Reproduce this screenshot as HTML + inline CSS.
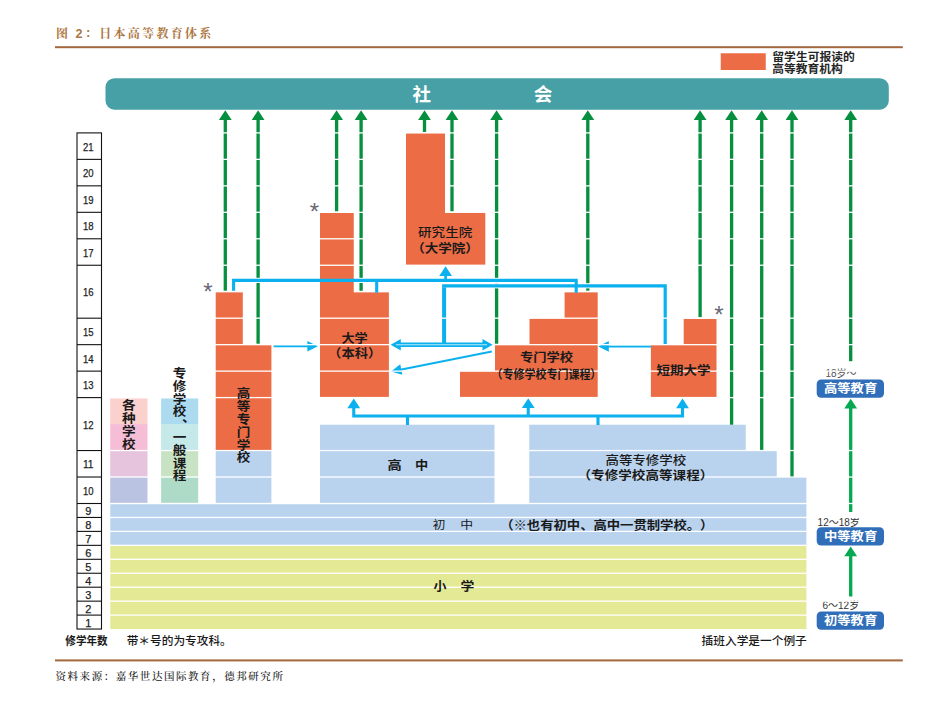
<!DOCTYPE html>
<html lang="zh-CN"><head><meta charset="utf-8"><title>图 2：日本高等教育体系</title>
<style>html,body{margin:0;padding:0;background:#fff}body{width:929px;height:707px;overflow:hidden}svg{display:block}text{white-space:pre;text-spacing-trim:space-all}</style>
</head><body>
<svg width="929" height="707" viewBox="0 0 929 707">
<rect width="929" height="707" fill="#fff"/>
<text x="56" y="37.6" font-size="12" font-weight="700" fill="#ad7642" letter-spacing="2.3" font-family='"Liberation Serif","Noto Serif CJK SC",serif'>图 <tspan font-family='"Liberation Sans","Noto Sans CJK SC",sans-serif' font-size="12.6">2</tspan>：日本高等教育体系</text>
<rect x="55.00" y="46.20" width="847.80" height="2.00" fill="#a4683e" />
<rect x="55.00" y="659.40" width="847.80" height="2.00" fill="#a4683e" />
<text x="55.50" y="680.00" font-size="10.5" font-weight="500" fill="#151515" letter-spacing="1.55" text-anchor="start" font-family='"Liberation Serif","Noto Serif CJK SC",serif' >资料来源：嘉华世达国际教育，德邦研究所</text>
<rect x="720.75" y="53.25" width="45.00" height="16.75" fill="#ec6d45" />
<text x="0.00" y="0.00" font-size="11.1" font-weight="700" fill="#262626" letter-spacing="0" text-anchor="start" font-family='"Liberation Sans","Noto Sans CJK SC",sans-serif' transform="translate(772.34,60.77) scale(1.0628,1)" >留学生可报读的</text>
<text x="0.00" y="0.00" font-size="11.1" font-weight="700" fill="#262626" letter-spacing="0" text-anchor="start" font-family='"Liberation Sans","Noto Sans CJK SC",sans-serif' transform="translate(772.34,73.37) scale(1.0597,1)" >高等教育机构</text>
<rect x="105.50" y="78.20" width="783.30" height="31.50" fill="#46a0a6" rx="9" ry="9"/>
<text x="412.40" y="101.00" font-size="18.5" font-weight="700" fill="#fff" letter-spacing="0" text-anchor="start" font-family='"Liberation Sans","Noto Sans CJK SC",sans-serif' >社</text>
<text x="533.65" y="101.00" font-size="18.5" font-weight="700" fill="#fff" letter-spacing="0" text-anchor="start" font-family='"Liberation Sans","Noto Sans CJK SC",sans-serif' >会</text>
<rect x="110.30" y="504.13" width="696.10" height="41.22" fill="#b9d3ef" />
<rect x="110.30" y="545.35" width="696.10" height="83.70" fill="#e4e996" />
<rect x="110.20" y="398.25" width="37.30" height="26.12" fill="#fad1cd" />
<rect x="110.20" y="424.07" width="37.30" height="26.77" fill="#f5bed6" />
<rect x="110.20" y="450.54" width="37.30" height="26.77" fill="#e6c4dd" />
<rect x="110.20" y="477.01" width="37.30" height="26.47" fill="#bac4e2" />
<rect x="161.10" y="398.25" width="37.10" height="26.12" fill="#acdbf0" />
<rect x="161.10" y="424.07" width="37.10" height="26.77" fill="#c5e8e8" />
<rect x="161.10" y="450.54" width="37.10" height="26.77" fill="#c8e2c4" />
<rect x="161.10" y="477.01" width="37.10" height="26.47" fill="#aedbc8" />
<rect x="215.70" y="292.37" width="27.10" height="52.59" fill="#ec6d45" />
<rect x="215.70" y="344.66" width="55.70" height="105.88" fill="#ec6d45" />
<rect x="215.70" y="450.54" width="55.70" height="52.94" fill="#b9d3ef" />
<rect x="320.00" y="424.72" width="174.50" height="78.76" fill="#b9d3ef" />
<rect x="529.25" y="424.72" width="216.50" height="26.12" fill="#b9d3ef" />
<rect x="529.25" y="450.54" width="247.50" height="26.77" fill="#b9d3ef" />
<rect x="529.25" y="477.01" width="277.15" height="27.42" fill="#b9d3ef" />
<rect x="320.00" y="212.96" width="33.75" height="82.76" fill="#ec6d45" />
<rect x="320.00" y="292.37" width="68.90" height="104.58" fill="#ec6d45" />
<rect x="564.60" y="292.37" width="33.10" height="26.12" fill="#ec6d45" />
<rect x="529.50" y="318.19" width="68.20" height="26.77" fill="#ec6d45" />
<rect x="495.00" y="344.66" width="102.70" height="26.77" fill="#ec6d45" />
<rect x="460.00" y="371.13" width="137.70" height="25.82" fill="#ec6d45" />
<rect x="683.70" y="318.84" width="32.80" height="26.12" fill="#ec6d45" />
<rect x="650.90" y="344.66" width="65.60" height="52.29" fill="#ec6d45" />
<rect x="223.65" y="119.50" width="3.30" height="171.17" fill="#068f3e" />
<polygon points="225.30,110.20 231.70,120.00 218.90,120.00" fill="#068f3e"/>
<rect x="256.45" y="119.50" width="3.30" height="224.21" fill="#068f3e" />
<polygon points="258.10,110.20 264.50,120.00 251.70,120.00" fill="#068f3e"/>
<rect x="334.95" y="119.50" width="3.30" height="91.86" fill="#068f3e" />
<polygon points="336.60,110.20 343.00,120.00 330.20,120.00" fill="#068f3e"/>
<rect x="359.45" y="119.50" width="3.30" height="171.27" fill="#068f3e" />
<polygon points="361.10,110.20 367.50,120.00 354.70,120.00" fill="#068f3e"/>
<rect x="422.85" y="119.50" width="3.30" height="12.45" fill="#068f3e" />
<polygon points="424.50,110.20 430.90,120.00 418.10,120.00" fill="#068f3e"/>
<rect x="450.35" y="119.50" width="3.30" height="91.86" fill="#068f3e" />
<polygon points="452.00,110.20 458.40,120.00 445.60,120.00" fill="#068f3e"/>
<rect x="494.95" y="119.50" width="3.30" height="224.21" fill="#068f3e" />
<polygon points="496.60,110.20 503.00,120.00 490.20,120.00" fill="#068f3e"/>
<rect x="586.15" y="119.50" width="3.30" height="171.17" fill="#068f3e" />
<polygon points="587.80,110.20 594.20,120.00 581.40,120.00" fill="#068f3e"/>
<rect x="698.45" y="119.50" width="3.30" height="197.74" fill="#068f3e" />
<polygon points="700.10,110.20 706.50,120.00 693.70,120.00" fill="#068f3e"/>
<rect x="729.95" y="119.50" width="3.30" height="305.22" fill="#068f3e" />
<polygon points="731.60,110.20 738.00,120.00 725.20,120.00" fill="#068f3e"/>
<rect x="760.05" y="119.50" width="3.30" height="331.39" fill="#068f3e" />
<polygon points="761.70,110.20 768.10,120.00 755.30,120.00" fill="#068f3e"/>
<rect x="790.35" y="119.50" width="3.30" height="357.86" fill="#068f3e" />
<polygon points="792.00,110.20 798.40,120.00 785.60,120.00" fill="#068f3e"/>
<rect x="849.05" y="119.50" width="3.30" height="241.70" fill="#068f3e" />
<polygon points="850.70,110.20 857.10,120.00 844.30,120.00" fill="#068f3e"/>
<rect x="849.05" y="408.00" width="3.30" height="104.00" fill="#05a94f" />
<polygon points="850.70,398.70 857.10,408.50 844.30,408.50" fill="#05a94f"/>
<rect x="246.00" y="277.80" width="70.00" height="5.20" fill="#fff" />
<rect x="357.00" y="277.80" width="15.00" height="5.20" fill="#fff" />
<rect x="392.00" y="277.80" width="48.00" height="5.20" fill="#fff" />
<rect x="450.00" y="277.80" width="122.00" height="5.20" fill="#fff" />
<rect x="450.00" y="283.20" width="211.00" height="5.20" fill="#fff" />
<path d="M233.6 290.87 V280.4 H576.2 V292.67" fill="none" stroke="#0bb1ee" stroke-width="3.1" stroke-linejoin="miter"/>
<path d="M376.7 280.4 V292.67" fill="none" stroke="#0bb1ee" stroke-width="3.1" stroke-linejoin="miter"/>
<path d="M445.6 280.4 V274" fill="none" stroke="#0bb1ee" stroke-width="2.7" stroke-linejoin="miter"/>
<polygon points="445.60,266.20 452.00,275.90 439.20,275.90" fill="#0bb1ee"/>
<path d="M444.1 344.6 V287.3" fill="none" stroke="#0bb1ee" stroke-width="4.0" stroke-linejoin="miter"/>
<path d="M442.1 285.8 H665.2 V345.2" fill="none" stroke="#0bb1ee" stroke-width="3.2" stroke-linejoin="miter"/>
<line x1="491.80" y1="351.60" x2="400.32" y2="369.75" stroke="#0bb1ee" stroke-width="2.0" />
<polygon points="391.00,371.60 400.27,364.36 402.33,374.76" fill="#0bb1ee"/>
<line x1="273.60" y1="346.20" x2="308.40" y2="346.20" stroke="#0bb1ee" stroke-width="2.0" />
<polygon points="317.90,346.20 307.40,351.50 307.40,340.90" fill="#0bb1ee"/>
<line x1="651.20" y1="346.40" x2="607.80" y2="346.40" stroke="#0bb1ee" stroke-width="2.0" />
<polygon points="598.30,346.40 608.80,341.10 608.80,351.70" fill="#0bb1ee"/>
<path d="M353.75 408 V416 H682.5 V408" fill="none" stroke="#0bb1ee" stroke-width="3.1" stroke-linejoin="miter"/>
<path d="M528.25 408 V416" fill="none" stroke="#0bb1ee" stroke-width="3.1" stroke-linejoin="miter"/>
<path d="M407.5 416 V425.02" fill="none" stroke="#0bb1ee" stroke-width="3.1" stroke-linejoin="miter"/>
<path d="M598 416 V425.02" fill="none" stroke="#0bb1ee" stroke-width="3.1" stroke-linejoin="miter"/>
<polygon points="353.75,398.60 360.15,408.30 347.35,408.30" fill="#0bb1ee"/>
<polygon points="528.25,398.30 534.65,408.00 521.85,408.00" fill="#0bb1ee"/>
<polygon points="682.50,398.60 688.90,408.30 676.10,408.30" fill="#0bb1ee"/>
<text x="825.40" y="377.00" font-size="10" font-weight="400" fill="#555" letter-spacing="0" text-anchor="start" font-family='"Liberation Sans","Noto Sans CJK SC",sans-serif' >18岁～</text>
<text x="817.60" y="525.60" font-size="10" font-weight="400" fill="#333" letter-spacing="0" text-anchor="start" font-family='"Liberation Sans","Noto Sans CJK SC",sans-serif' >12～18岁</text>
<text x="822.50" y="608.70" font-size="10" font-weight="400" fill="#333" letter-spacing="0" text-anchor="start" font-family='"Liberation Sans","Noto Sans CJK SC",sans-serif' >6～12岁</text>
<text x="208.00" y="300.00" font-size="24" font-weight="400" fill="#686876" letter-spacing="0" text-anchor="middle" font-family='"Liberation Sans","Noto Sans CJK SC",sans-serif' >*</text>
<text x="314.40" y="219.60" font-size="24" font-weight="400" fill="#686876" letter-spacing="0" text-anchor="middle" font-family='"Liberation Sans","Noto Sans CJK SC",sans-serif' >*</text>
<text x="718.80" y="322.60" font-size="24" font-weight="400" fill="#686876" letter-spacing="0" text-anchor="middle" font-family='"Liberation Sans","Noto Sans CJK SC",sans-serif' >*</text>
<rect x="104" y="132.25" width="790" height="1.3" fill="#fff"/>
<rect x="104" y="158.72" width="790" height="1.3" fill="#fff"/>
<rect x="104" y="185.19" width="790" height="1.3" fill="#fff"/>
<rect x="104" y="211.66" width="790" height="1.3" fill="#fff"/>
<rect x="104" y="238.13" width="790" height="1.3" fill="#fff"/>
<rect x="104" y="264.60" width="790" height="1.3" fill="#fff"/>
<rect x="104" y="317.54" width="790" height="1.3" fill="#fff"/>
<rect x="104" y="344.01" width="790" height="1.3" fill="#fff"/>
<rect x="104" y="370.48" width="790" height="1.3" fill="#fff"/>
<rect x="104" y="396.95" width="790" height="1.3" fill="#fff"/>
<rect x="104" y="449.89" width="790" height="1.3" fill="#fff"/>
<rect x="104" y="476.36" width="790" height="1.3" fill="#fff"/>
<rect x="104" y="502.83" width="790" height="1.3" fill="#fff"/>
<rect x="104" y="516.80" width="790" height="1.3" fill="#fff"/>
<rect x="104" y="530.75" width="790" height="1.3" fill="#fff"/>
<rect x="104" y="544.70" width="790" height="1.3" fill="#fff"/>
<rect x="104" y="558.65" width="790" height="1.3" fill="#fff"/>
<rect x="104" y="572.60" width="790" height="1.3" fill="#fff"/>
<rect x="104" y="586.55" width="790" height="1.3" fill="#fff"/>
<rect x="104" y="600.50" width="790" height="1.3" fill="#fff"/>
<rect x="104" y="614.45" width="790" height="1.3" fill="#fff"/>
<line x1="398.00" y1="344.70" x2="485.00" y2="344.70" stroke="#0bb1ee" stroke-width="4.5" />
<polygon points="390.70,344.70 400.80,338.90 400.80,350.50" fill="#0bb1ee"/>
<polygon points="492.60,344.70 482.50,338.90 482.50,350.50" fill="#0bb1ee"/>
<rect x="396" y="344.1" width="91" height="1.2" fill="#fff" fill-opacity="0.6"/>
<rect x="849.05" y="555.80" width="3.30" height="40.70" fill="#05a94f" />
<polygon points="850.70,546.50 857.10,556.30 844.30,556.30" fill="#05a94f"/>
<rect x="406.00" y="133.55" width="39.00" height="83.41" fill="#ec6d45" />
<rect x="406.00" y="212.96" width="79.30" height="51.64" fill="#ec6d45" />
<rect x="816.70" y="379.50" width="67.30" height="18.30" fill="#316eb9" rx="4.5" ry="4.5"/>
<text x="0.00" y="0.00" font-size="12.1" font-weight="700" fill="#fff" letter-spacing="0" text-anchor="start" font-family='"Liberation Sans","Noto Sans CJK SC",sans-serif' transform="translate(823.93,392.99) scale(1.1019,1)" >高等教育</text>
<rect x="816.70" y="527.30" width="67.30" height="18.30" fill="#316eb9" rx="4.5" ry="4.5"/>
<text x="0.00" y="0.00" font-size="12.1" font-weight="700" fill="#fff" letter-spacing="0" text-anchor="start" font-family='"Liberation Sans","Noto Sans CJK SC",sans-serif' transform="translate(823.93,540.79) scale(1.1019,1)" >中等教育</text>
<rect x="816.70" y="611.40" width="67.30" height="18.30" fill="#316eb9" rx="4.5" ry="4.5"/>
<text x="0.00" y="0.00" font-size="12.1" font-weight="700" fill="#fff" letter-spacing="0" text-anchor="start" font-family='"Liberation Sans","Noto Sans CJK SC",sans-serif' transform="translate(823.93,624.89) scale(1.1019,1)" >初等教育</text>
<text transform="scale(1,0.92)" x="122.10 122.10 122.10 122.10" y="445.87 459.88 473.88 487.89" font-size="13.6" font-weight="700" fill="#1a1a1a" font-family='"Liberation Sans","Noto Sans CJK SC",sans-serif'>各种学校</text>
<text transform="scale(1,0.92)" x="172.70 172.70 172.70 172.70 181.95 172.70 172.70 172.70 172.70" y="410.98 424.87 438.76 452.66 459.07 480.45 494.34 508.24 522.13" font-size="13.6" font-weight="700" fill="#1a1a1a" font-family='"Liberation Sans","Noto Sans CJK SC",sans-serif'>专修学校、一般课程</text>
<text transform="scale(1,0.92)" x="236.80 236.80 236.80 236.80 236.80 236.80" y="432.93 446.86 460.79 474.71 488.64 502.57" font-size="13.6" font-weight="700" fill="#1a1a1a" font-family='"Liberation Sans","Noto Sans CJK SC",sans-serif'>高等专门学校</text>
<text x="0.00" y="0.00" font-size="12.1" font-weight="700" fill="#1a1a1a" letter-spacing="0" text-anchor="start" font-family='"Liberation Sans","Noto Sans CJK SC",sans-serif' transform="translate(341.44,342.99) scale(1.0877,1)" >大学</text>
<text x="0.00" y="0.00" font-size="12.1" font-weight="700" fill="#1a1a1a" letter-spacing="0" text-anchor="start" font-family='"Liberation Sans","Noto Sans CJK SC",sans-serif' transform="translate(328.12,358.29) scale(1.1005,1)" >（本科）</text>
<text x="0.00" y="0.00" font-size="12.1" font-weight="700" fill="#1a1a1a" letter-spacing="0" text-anchor="start" font-family='"Liberation Sans","Noto Sans CJK SC",sans-serif' transform="translate(519.93,362.29) scale(1.0998,1)" >专门学校</text>
<text x="0.00" y="0.00" font-size="12.1" font-weight="700" fill="#1a1a1a" letter-spacing="0" text-anchor="start" font-family='"Liberation Sans","Noto Sans CJK SC",sans-serif' transform="translate(491.52,378.69) scale(0.9088,1)" >（专修学校专门课程）</text>
<text x="0.00" y="0.00" font-size="12.1" font-weight="700" fill="#1a1a1a" letter-spacing="0" text-anchor="start" font-family='"Liberation Sans","Noto Sans CJK SC",sans-serif' transform="translate(656.53,375.19) scale(1.1145,1)" >短期大学</text>
<text x="0.00" y="0.00" font-size="12.1" font-weight="700" fill="#1a1a1a" letter-spacing="0" text-anchor="start" font-family='"Liberation Sans","Noto Sans CJK SC",sans-serif' transform="translate(387.50,469.69) scale(1.1775,1)" >高</text>
<text x="0.00" y="0.00" font-size="12.1" font-weight="700" fill="#1a1a1a" letter-spacing="0" text-anchor="start" font-family='"Liberation Sans","Noto Sans CJK SC",sans-serif' transform="translate(415.04,469.69) scale(1.093,1)" >中</text>
<text x="0.00" y="0.00" font-size="12.1" font-weight="500" fill="#1a1a1a" letter-spacing="0" text-anchor="start" font-family='"Liberation Sans","Noto Sans CJK SC",sans-serif' transform="translate(605.43,464.59) scale(1.1135,1)" >高等专修学校</text>
<text x="0.00" y="0.00" font-size="12.1" font-weight="700" fill="#1a1a1a" letter-spacing="0" text-anchor="start" font-family='"Liberation Sans","Noto Sans CJK SC",sans-serif' transform="translate(577.54,480.29) scale(1.1224,1)" >（专修学校高等课程）</text>
<text x="0.00" y="0.00" font-size="11.6" font-weight="400" fill="#1a1a1a" letter-spacing="0" text-anchor="start" font-family='"Liberation Sans","Noto Sans CJK SC",sans-serif' transform="translate(432.81,529.33) scale(1.0892,1)" >初</text>
<text x="0.00" y="0.00" font-size="11.6" font-weight="400" fill="#1a1a1a" letter-spacing="0" text-anchor="start" font-family='"Liberation Sans","Noto Sans CJK SC",sans-serif' transform="translate(460.15,529.33) scale(1.1123,1)" >中</text>
<text x="0.00" y="0.00" font-size="12.1" font-weight="700" fill="#1a1a1a" letter-spacing="0" text-anchor="start" font-family='"Liberation Sans","Noto Sans CJK SC",sans-serif' transform="translate(500.18,530.29) scale(1.1032,1)" >（※也有初中、高中一贯制学校。）</text>
<text x="0.00" y="0.00" font-size="12.1" font-weight="700" fill="#1a1a1a" letter-spacing="0" text-anchor="start" font-family='"Liberation Sans","Noto Sans CJK SC",sans-serif' transform="translate(433.44,591.29) scale(1.0753,1)" >小</text>
<text x="0.00" y="0.00" font-size="12.1" font-weight="700" fill="#1a1a1a" letter-spacing="0" text-anchor="start" font-family='"Liberation Sans","Noto Sans CJK SC",sans-serif' transform="translate(460.51,591.29) scale(1.1464,1)" >学</text>
<text x="0.00" y="0.00" font-size="12.1" font-weight="500" fill="#1a1a1a" letter-spacing="0" text-anchor="start" font-family='"Liberation Sans","Noto Sans CJK SC",sans-serif' transform="translate(418.03,236.69) scale(1.1209,1)" >研究生院</text>
<text x="0.00" y="0.00" font-size="12.1" font-weight="700" fill="#1a1a1a" letter-spacing="0" text-anchor="start" font-family='"Liberation Sans","Noto Sans CJK SC",sans-serif' transform="translate(411.31,252.59) scale(1.117,1)" >（大学院）</text>
<text x="0.00" y="0.00" font-size="11.2" font-weight="700" fill="#1a1a1a" letter-spacing="0" text-anchor="start" font-family='"Liberation Sans","Noto Sans CJK SC",sans-serif' transform="translate(65.33,644.56) scale(0.9451,1)" >修学年数</text>
<text x="0.00" y="0.00" font-size="11.2" font-weight="500" fill="#1a1a1a" letter-spacing="0" text-anchor="start" font-family='"Liberation Sans","Noto Sans CJK SC",sans-serif' transform="translate(126.69,644.56) scale(1.0426,1)" >带＊号的为专攻科。</text>
<text x="0.00" y="0.00" font-size="11.2" font-weight="500" fill="#1a1a1a" letter-spacing="0" text-anchor="start" font-family='"Liberation Sans","Noto Sans CJK SC",sans-serif' transform="translate(701.59,644.66) scale(1.0448,1)" >插班入学是一个例子</text>
<rect x="77" y="132.90" width="24.5" height="496.15" fill="#fff" stroke="#111" stroke-width="1.1"/>
<text x="88.2" y="150.73" font-size="11" fill="#222" stroke="#222" stroke-width="0.25" text-anchor="middle" textLength="10.6" lengthAdjust="spacingAndGlyphs" font-family='"Liberation Sans","Noto Sans CJK SC",sans-serif'>21</text>
<line x1="77.00" y1="159.37" x2="101.50" y2="159.37" stroke="#111" stroke-width="1.1" />
<text x="88.2" y="177.21" font-size="11" fill="#222" stroke="#222" stroke-width="0.25" text-anchor="middle" textLength="10.6" lengthAdjust="spacingAndGlyphs" font-family='"Liberation Sans","Noto Sans CJK SC",sans-serif'>20</text>
<line x1="77.00" y1="185.84" x2="101.50" y2="185.84" stroke="#111" stroke-width="1.1" />
<text x="88.2" y="203.67" font-size="11" fill="#222" stroke="#222" stroke-width="0.25" text-anchor="middle" textLength="10.6" lengthAdjust="spacingAndGlyphs" font-family='"Liberation Sans","Noto Sans CJK SC",sans-serif'>19</text>
<line x1="77.00" y1="212.31" x2="101.50" y2="212.31" stroke="#111" stroke-width="1.1" />
<text x="88.2" y="230.15" font-size="11" fill="#222" stroke="#222" stroke-width="0.25" text-anchor="middle" textLength="10.6" lengthAdjust="spacingAndGlyphs" font-family='"Liberation Sans","Noto Sans CJK SC",sans-serif'>18</text>
<line x1="77.00" y1="238.78" x2="101.50" y2="238.78" stroke="#111" stroke-width="1.1" />
<text x="88.2" y="256.62" font-size="11" fill="#222" stroke="#222" stroke-width="0.25" text-anchor="middle" textLength="10.6" lengthAdjust="spacingAndGlyphs" font-family='"Liberation Sans","Noto Sans CJK SC",sans-serif'>17</text>
<line x1="77.00" y1="265.25" x2="101.50" y2="265.25" stroke="#111" stroke-width="1.1" />
<text x="88.2" y="296.32" font-size="11" fill="#222" stroke="#222" stroke-width="0.25" text-anchor="middle" textLength="10.6" lengthAdjust="spacingAndGlyphs" font-family='"Liberation Sans","Noto Sans CJK SC",sans-serif'>16</text>
<line x1="77.00" y1="318.19" x2="101.50" y2="318.19" stroke="#111" stroke-width="1.1" />
<text x="88.2" y="336.02" font-size="11" fill="#222" stroke="#222" stroke-width="0.25" text-anchor="middle" textLength="10.6" lengthAdjust="spacingAndGlyphs" font-family='"Liberation Sans","Noto Sans CJK SC",sans-serif'>15</text>
<line x1="77.00" y1="344.66" x2="101.50" y2="344.66" stroke="#111" stroke-width="1.1" />
<text x="88.2" y="362.50" font-size="11" fill="#222" stroke="#222" stroke-width="0.25" text-anchor="middle" textLength="10.6" lengthAdjust="spacingAndGlyphs" font-family='"Liberation Sans","Noto Sans CJK SC",sans-serif'>14</text>
<line x1="77.00" y1="371.13" x2="101.50" y2="371.13" stroke="#111" stroke-width="1.1" />
<text x="88.2" y="388.97" font-size="11" fill="#222" stroke="#222" stroke-width="0.25" text-anchor="middle" textLength="10.6" lengthAdjust="spacingAndGlyphs" font-family='"Liberation Sans","Noto Sans CJK SC",sans-serif'>13</text>
<line x1="77.00" y1="397.60" x2="101.50" y2="397.60" stroke="#111" stroke-width="1.1" />
<text x="88.2" y="428.67" font-size="11" fill="#222" stroke="#222" stroke-width="0.25" text-anchor="middle" textLength="10.6" lengthAdjust="spacingAndGlyphs" font-family='"Liberation Sans","Noto Sans CJK SC",sans-serif'>12</text>
<line x1="77.00" y1="450.54" x2="101.50" y2="450.54" stroke="#111" stroke-width="1.1" />
<text x="88.2" y="468.38" font-size="11" fill="#222" stroke="#222" stroke-width="0.25" text-anchor="middle" textLength="10.6" lengthAdjust="spacingAndGlyphs" font-family='"Liberation Sans","Noto Sans CJK SC",sans-serif'>11</text>
<line x1="77.00" y1="477.01" x2="101.50" y2="477.01" stroke="#111" stroke-width="1.1" />
<text x="88.2" y="494.85" font-size="11" fill="#222" stroke="#222" stroke-width="0.25" text-anchor="middle" textLength="10.6" lengthAdjust="spacingAndGlyphs" font-family='"Liberation Sans","Noto Sans CJK SC",sans-serif'>10</text>
<line x1="77.00" y1="503.50" x2="101.50" y2="503.50" stroke="#111" stroke-width="1.1" />
<text x="88.4" y="515.08" font-size="11" fill="#222" stroke="#222" stroke-width="0.25" text-anchor="middle"  font-family='"Liberation Sans","Noto Sans CJK SC",sans-serif'>9</text>
<line x1="77.00" y1="517.45" x2="101.50" y2="517.45" stroke="#111" stroke-width="1.1" />
<text x="88.4" y="529.02" font-size="11" fill="#222" stroke="#222" stroke-width="0.25" text-anchor="middle"  font-family='"Liberation Sans","Noto Sans CJK SC",sans-serif'>8</text>
<line x1="77.00" y1="531.40" x2="101.50" y2="531.40" stroke="#111" stroke-width="1.1" />
<text x="88.4" y="542.98" font-size="11" fill="#222" stroke="#222" stroke-width="0.25" text-anchor="middle"  font-family='"Liberation Sans","Noto Sans CJK SC",sans-serif'>7</text>
<line x1="77.00" y1="545.35" x2="101.50" y2="545.35" stroke="#111" stroke-width="1.1" />
<text x="88.4" y="556.93" font-size="11" fill="#222" stroke="#222" stroke-width="0.25" text-anchor="middle"  font-family='"Liberation Sans","Noto Sans CJK SC",sans-serif'>6</text>
<line x1="77.00" y1="559.30" x2="101.50" y2="559.30" stroke="#111" stroke-width="1.1" />
<text x="88.4" y="570.88" font-size="11" fill="#222" stroke="#222" stroke-width="0.25" text-anchor="middle"  font-family='"Liberation Sans","Noto Sans CJK SC",sans-serif'>5</text>
<line x1="77.00" y1="573.25" x2="101.50" y2="573.25" stroke="#111" stroke-width="1.1" />
<text x="88.4" y="584.83" font-size="11" fill="#222" stroke="#222" stroke-width="0.25" text-anchor="middle"  font-family='"Liberation Sans","Noto Sans CJK SC",sans-serif'>4</text>
<line x1="77.00" y1="587.20" x2="101.50" y2="587.20" stroke="#111" stroke-width="1.1" />
<text x="88.4" y="598.77" font-size="11" fill="#222" stroke="#222" stroke-width="0.25" text-anchor="middle"  font-family='"Liberation Sans","Noto Sans CJK SC",sans-serif'>3</text>
<line x1="77.00" y1="601.15" x2="101.50" y2="601.15" stroke="#111" stroke-width="1.1" />
<text x="88.4" y="612.73" font-size="11" fill="#222" stroke="#222" stroke-width="0.25" text-anchor="middle"  font-family='"Liberation Sans","Noto Sans CJK SC",sans-serif'>2</text>
<line x1="77.00" y1="615.10" x2="101.50" y2="615.10" stroke="#111" stroke-width="1.1" />
<text x="88.4" y="626.68" font-size="11" fill="#222" stroke="#222" stroke-width="0.25" text-anchor="middle"  font-family='"Liberation Sans","Noto Sans CJK SC",sans-serif'>1</text>
</svg>
</body></html>
